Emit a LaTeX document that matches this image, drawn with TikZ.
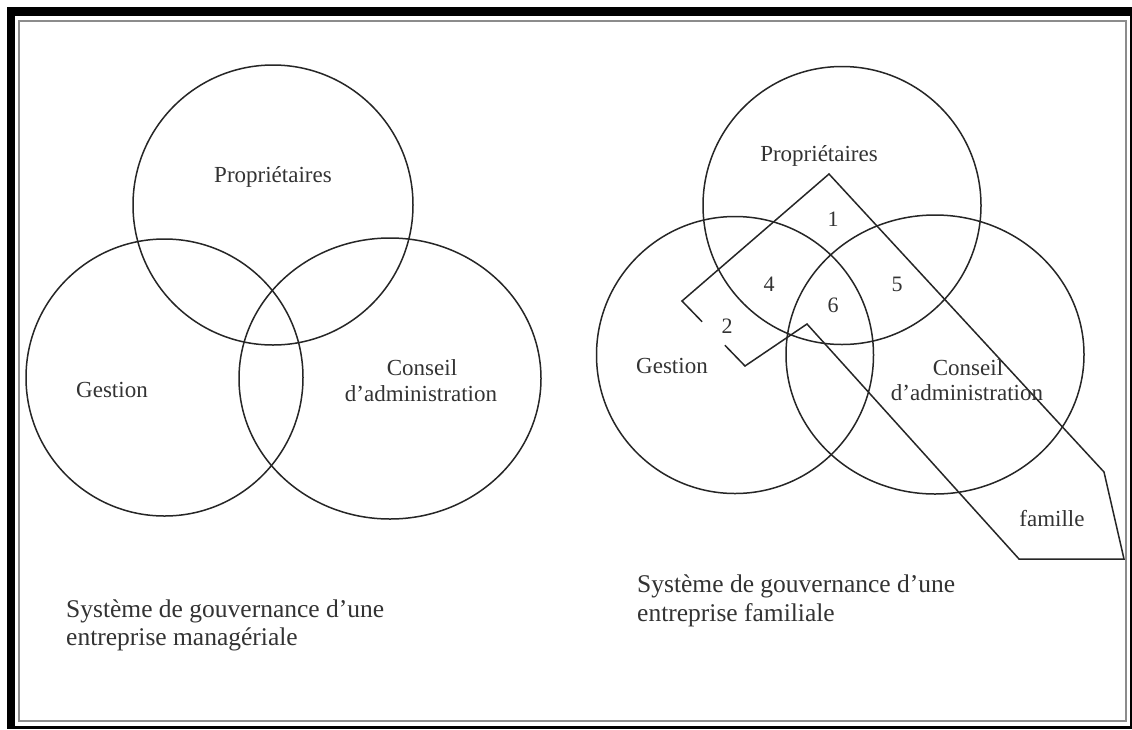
\documentclass[tikz,border=0pt]{standalone}
\usepackage{fontspec}
\setmainfont{Liberation Serif}
\usetikzlibrary{calc}

\begin{document}
\begin{tikzpicture}[x=1pt, y=-1pt,
    ring/.style={draw=black!85, line width=1.5pt},
    famline/.style={draw=black!85, line width=1.5pt, line join=miter},
    lbl/.style={font=\fontsize{23}{27}\selectfont, text=black!80, inner sep=0pt, anchor=base},
    num/.style={font=\fontsize{22}{26}\selectfont, text=black!80, inner sep=0pt, anchor=base},
    capline/.style={font=\fontsize{25.5}{30}\selectfont, text=black!80, inner sep=0pt, anchor=base west}]

  % frame
  \useasboundingbox (0,0) rectangle (1132,729);
  \fill[black] (7,7) rectangle (1132,729);
  \fill[white] (15,16) rectangle (1130,726);
  \draw[black!45, line width=1.5pt] (19,21) rectangle (1126,721);

  % managerial firm
  \coordinate (propL) at (273,205);
  \coordinate (gestL) at (164.5,377.5);
  \coordinate (consL) at (390,378.5);
  \draw[ring] (propL) circle [radius=140pt];
  \draw[ring] (gestL) circle [radius=138.5pt];
  \draw[ring] (consL) ellipse [x radius=151pt, y radius=140.5pt];

  \node[lbl] (propLtxt) at (273,182) {Propriétaires};
  \node[lbl] (gestLtxt) at (112,397) {Gestion};
  \node[lbl] (consLtxt) at (422,375) {Conseil};
  \node[lbl] (admLtxt) at (421,401) {d’administration};

  \node[capline] (capLa) at (66,617) {Système de gouvernance d’une};
  \node[capline] (capLb) at (66,645) {entreprise managériale};

  % family firm
  \coordinate (propR) at (842,205.5);
  \coordinate (gestR) at (735,355);
  \coordinate (consR) at (935,354.5);
  \draw[ring] (propR) circle [radius=139pt];
  \draw[ring] (gestR) circle [radius=138.5pt];
  \draw[ring] (consR) ellipse [x radius=149pt, y radius=139.5pt];

  \coordinate (apex) at (829,174);
  \coordinate (famL) at (682,301);
  \coordinate (famB) at (745,366);
  \coordinate (notch) at (807,324);
  \coordinate (tailL) at (1019,559);
  \coordinate (tailR) at (1124,559);
  \coordinate (tailT) at (1104,472);
  \draw[famline] ($(famL)!0.68!(famB)$) -- (famB) -- (notch) -- (tailL) -- (tailR)
    -- (tailT) -- (apex) -- (famL) -- ($(famL)!0.32!(famB)$);

  \node[lbl] (propRtxt) at (819,161) {Propriétaires};
  \node[lbl] (gestRtxt) at (672,373) {Gestion};
  \node[lbl] (consRtxt) at (968,375) {Conseil};
  \node[lbl] (admRtxt) at (967,400) {d’administration};
  \node[lbl] (famtxt) at (1052,526) {famille};

  \node[num] (n1) at (833,226) {1};
  \node[num] (n2) at (727,333) {2};
  \node[num] (n4) at (769,291) {4};
  \node[num] (n5) at (897,291) {5};
  \node[num] (n6) at (833,312) {6};

  \node[capline] (capRa) at (637,592) {Système de gouvernance d’une};
  \node[capline] (capRb) at (637,621) {entreprise familiale};
\end{tikzpicture}
\end{document}
